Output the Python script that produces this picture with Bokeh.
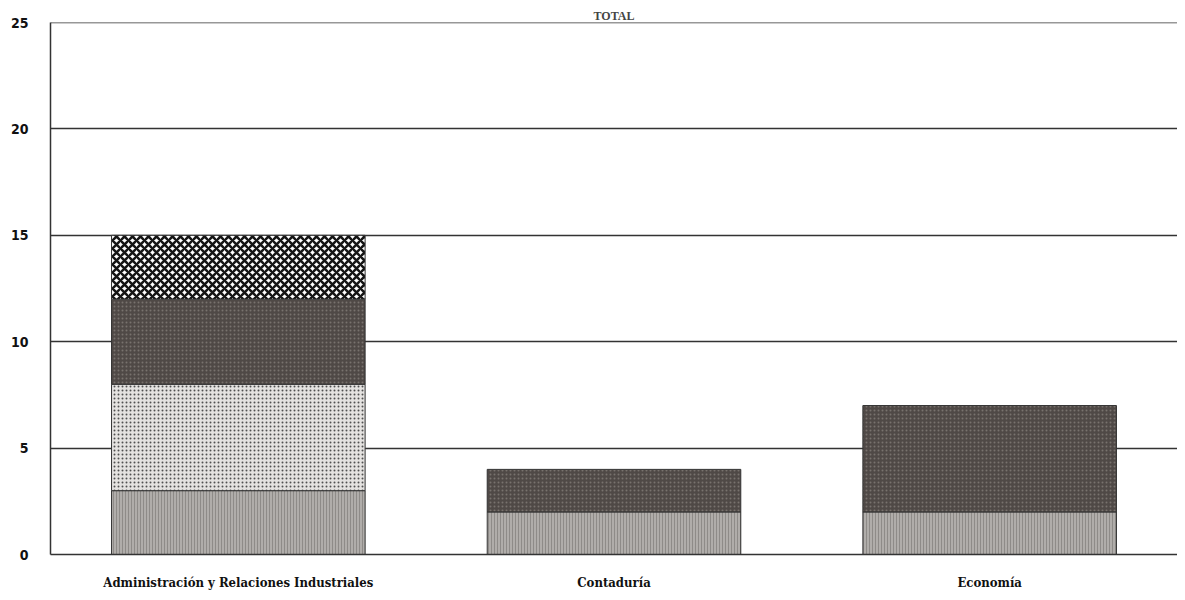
import numpy as np
from bokeh.plotting import figure
from bokeh.models import FixedTicker, ColumnDataSource, Span
from bokeh.embed import file_html
from bokeh.resources import INLINE

categories = ["Administración y Relaciones Industriales", "Contaduría", "Economía"]
serie_1 = [3, 2, 2]
serie_2 = [5, 0, 0]
serie_3 = [4, 2, 5]
serie_4 = [3, 0, 0]
y_ticks = [0, 5, 10, 15, 20, 25]

p = figure(x_range=categories, y_range=(0, 25), width=1177, height=592,
           output_backend="svg", toolbar_location=None,
           min_border_left=50, min_border_right=0, min_border_top=22, min_border_bottom=37)
p.title.text = "TOTAL"
p.title.align = "center"
p.title.text_font = "Liberation Serif"
p.title.text_font_size = "12px"
p.title.text_font_style = "bold"
p.title.standoff = 0
p.outline_line_color = None
p.background_fill_color = "#ffffff"

styles = [
    dict(fill_color="#b0adaa", hatch_pattern="vertical_line", hatch_color="#8e8b88", hatch_scale=3, hatch_weight=1),
    dict(fill_color="#e4e2e0", hatch_pattern="dot", hatch_color="#505050", hatch_scale=4, hatch_weight=1.2),
    dict(fill_color="#4f4946", hatch_pattern="dot", hatch_color="#78726e", hatch_scale=4, hatch_weight=1.2),
    dict(fill_color="#ffffff", hatch_pattern="diagonal_cross", hatch_color="#151515", hatch_scale=8, hatch_weight=2.5),
]
series = [serie_1, serie_2, serie_3, serie_4]
bottom = np.zeros(len(categories))
for vals, st in zip(series, styles):
    v = np.array(vals, dtype=float)
    top = bottom + v
    mask = v > 0
    src = ColumnDataSource(dict(x=[c for c, m in zip(categories, mask) if m],
                                bottom=bottom[mask], top=top[mask]))
    p.vbar(x="x", bottom="bottom", top="top", width=0.675, source=src,
           line_color="#333333", line_width=1, **st)
    bottom = top

p.add_layout(Span(location=y_ticks[-1], dimension="width", line_color="#333333", line_width=1.5))

p.yaxis.ticker = FixedTicker(ticks=y_ticks)
p.yaxis.major_tick_line_color = None
p.yaxis.minor_tick_line_color = None
p.yaxis.axis_line_color = "#333333"
p.yaxis.axis_line_width = 1.5
p.yaxis.major_label_standoff = 16
p.yaxis.major_label_text_font = "DejaVu Sans Condensed"
p.yaxis.major_label_text_font_style = "bold"
p.yaxis.major_label_text_font_size = "14px"
p.yaxis.major_label_text_color = "#111111"

p.xaxis.major_tick_line_color = None
p.xaxis.axis_line_color = "#333333"
p.xaxis.axis_line_width = 1.5
p.xaxis.major_label_standoff = 14
p.xaxis.major_label_text_font = "DejaVu Serif Condensed"
p.xaxis.major_label_text_font_style = "bold"
p.xaxis.major_label_text_font_size = "13px"
p.xaxis.major_label_text_color = "#111111"

p.xgrid.grid_line_color = None
p.ygrid.grid_line_color = "#333333"
p.ygrid.grid_line_width = 1.5
p.ygrid.level = "underlay"

open("out.html", "w").write(file_html(p, INLINE))
